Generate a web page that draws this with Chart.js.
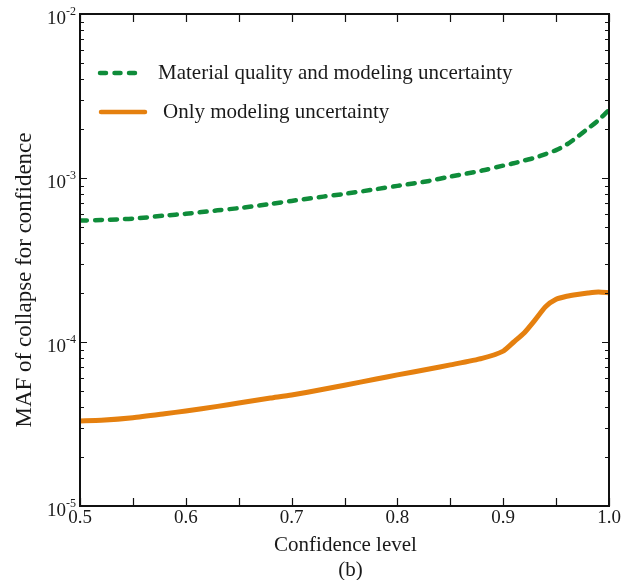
<!DOCTYPE html>
<html>
<head>
<meta charset="utf-8">
<script src="https://cdn.jsdelivr.net/npm/chart.js@4"></script>
<style>
  html, body { margin: 0; padding: 0; background: #fff; }
  #wrap { width: 625px; height: 580px; }
</style>
</head>
<body>
<div id="wrap"><canvas id="mafChart" width="625" height="580"></canvas></div>
<script>
// confidence levels on the x axis
const confidence = [0.50, 0.52, 0.55, 0.58, 0.60, 0.63, 0.65, 0.68, 0.70, 0.73, 0.75, 0.78, 0.80,
    0.83, 0.85, 0.88, 0.90, 0.91, 0.92, 0.93, 0.94, 0.95, 0.96, 0.97, 0.98, 0.99, 1.00];

// MAF of collapse, material quality + modeling uncertainty
const mafMaterial = [5.5e-4, 5.55e-4, 5.65e-4, 5.9e-4, 6.05e-4, 6.35e-4, 6.55e-4, 6.95e-4, 7.25e-4,
    7.7e-4, 8.0e-4, 8.55e-4, 8.95e-4, 9.6e-4, 1.02e-3, 1.11e-3, 1.19e-3, 1.23e-3, 1.28e-3, 1.33e-3,
    1.40e-3, 1.48e-3, 1.60e-3, 1.78e-3, 2.0e-3, 2.25e-3, 2.6e-3];

// MAF of collapse, modeling uncertainty only
const mafModeling = [3.3e-5, 3.33e-5, 3.45e-5, 3.65e-5, 3.8e-5, 4.05e-5, 4.25e-5, 4.55e-5, 4.75e-5,
    5.15e-5, 5.45e-5, 5.95e-5, 6.3e-5, 6.85e-5, 7.25e-5, 7.95e-5, 8.8e-5, 1.0e-4, 1.14e-4, 1.36e-4,
    1.64e-4, 1.82e-4, 1.9e-4, 1.95e-4, 1.99e-4, 2.02e-4, 2.0e-4];

const seriesNames = ["Material quality and modeling uncertainty", "Only modeling uncertainty"];
const xTicks = [0.5, 0.6, 0.7, 0.8, 0.9, 1.0];
const yExponents = [-5, -4, -3, -2];

const FONT = '"Liberation Serif", "Times New Roman", serif';

function toPoints(values) {
    return confidence.map((c, i) => ({ x: c, y: values[i] }));
}

// frame, inward ticks, labels and legend drawn on top of the plot
const axesDecor = {
    id: "axesDecor",
    afterDraw(chart) {
        const ctx = chart.ctx;
        const { left, right, top, bottom } = chart.chartArea;
        const xs = chart.scales.x;
        const ys = chart.scales.y;

        ctx.save();
        ctx.strokeStyle = "#111";
        ctx.lineWidth = 2;
        ctx.strokeRect(left, top, right - left, bottom - top);

        // x ticks every 0.05, top and bottom
        ctx.lineWidth = 1.2;
        ctx.beginPath();
        for (let k = 0; k <= 10; k++) {
            const px = Math.round(xs.getPixelForValue(0.5 + k * 0.05)) + 0.5;
            ctx.moveTo(px, bottom); ctx.lineTo(px, bottom - 8);
            ctx.moveTo(px, top); ctx.lineTo(px, top + 8);
        }
        // y decade and minor ticks, left and right
        for (let e = -5; e < -2; e++) {
            for (let m = 1; m <= 9; m++) {
                const py = Math.round(ys.getPixelForValue(m * Math.pow(10, e))) + 0.5;
                const len = m === 1 ? 7 : 4;
                ctx.moveTo(left, py); ctx.lineTo(left + len, py);
                ctx.moveTo(right, py); ctx.lineTo(right - len, py);
            }
        }
        ctx.stroke();

        ctx.fillStyle = "#1a1a1a";
        ctx.font = "19px " + FONT;
        ctx.textAlign = "center";
        ctx.textBaseline = "top";
        xTicks.forEach(v => {
            ctx.fillText(v.toFixed(1), xs.getPixelForValue(v), bottom + 3);
        });

        // y tick labels as 10 with a raised exponent
        yExponents.forEach(e => {
            const py = ys.getPixelForValue(Math.pow(10, e));
            ctx.font = "19px " + FONT;
            ctx.textAlign = "right";
            ctx.textBaseline = "middle";
            ctx.fillText("10", left - 14, py + 5);
            ctx.font = "12px " + FONT;
            ctx.textAlign = "left";
            ctx.fillText(String(e), left - 14, py - 2);
        });

        // axis titles
        ctx.font = "21px " + FONT;
        ctx.textAlign = "center";
        ctx.textBaseline = "middle";
        ctx.fillText("Confidence level", (left + right) / 2 + 1, 545);
        ctx.fillText("(b)", (left + right) / 2 + 6, 570);
        ctx.save();
        ctx.font = "23px " + FONT;
        ctx.translate(25, 280);
        ctx.rotate(-Math.PI / 2);
        ctx.fillText("MAF of collapse for confidence", 0, 0);
        ctx.restore();

        // legend
        const rows = [{ y: 73, x0: 100, x1: 140, tx: 158 }, { y: 112, x0: 101, x1: 145, tx: 163 }];
        chart.data.datasets.forEach((ds, i) => {
            const r = rows[i];
            ctx.strokeStyle = ds.borderColor;
            ctx.lineWidth = 4.5;
            ctx.lineCap = "round";
            ctx.setLineDash(ds.borderDash && ds.borderDash.length ? [6, 8.5] : []);
            ctx.beginPath();
            ctx.moveTo(r.x0, r.y); ctx.lineTo(r.x1, r.y);
            ctx.stroke();
            ctx.setLineDash([]);
            ctx.fillStyle = "#1a1a1a";
            ctx.font = "21px " + FONT;
            ctx.textAlign = "left";
            ctx.textBaseline = "middle";
            ctx.fillText(ds.label, r.tx, r.y);
        });
        ctx.restore();
    }
};

new Chart(document.getElementById("mafChart"), {
    type: "line",
    data: {
        datasets: [{
            label: seriesNames[0],
            data: toPoints(mafMaterial),
            borderColor: "#0f8c3a",
            borderWidth: 4.5,
            borderDash: [7, 8],
            borderCapStyle: "round",
            pointRadius: 0,
            tension: 0.3,
            fill: false
        }, {
            label: seriesNames[1],
            data: toPoints(mafModeling),
            borderColor: "#e5800f",
            borderWidth: 5,
            borderCapStyle: "round",
            borderJoinStyle: "round",
            pointRadius: 0,
            tension: 0.2,
            fill: false
        }]
    },
    options: {
        responsive: false,
        animation: false,
        events: [],
        layout: { padding: { left: 80, right: 16, top: 14, bottom: 74 } },
        plugins: {
            legend: { display: false },
            tooltip: { enabled: false }
        },
        scales: {
            x: { type: "linear", min: 0.5, max: 1.0, display: false },
            y: { type: "logarithmic", min: 1e-5, max: 1e-2, display: false }
        }
    },
    plugins: [axesDecor]
});
</script>
</body>
</html>
